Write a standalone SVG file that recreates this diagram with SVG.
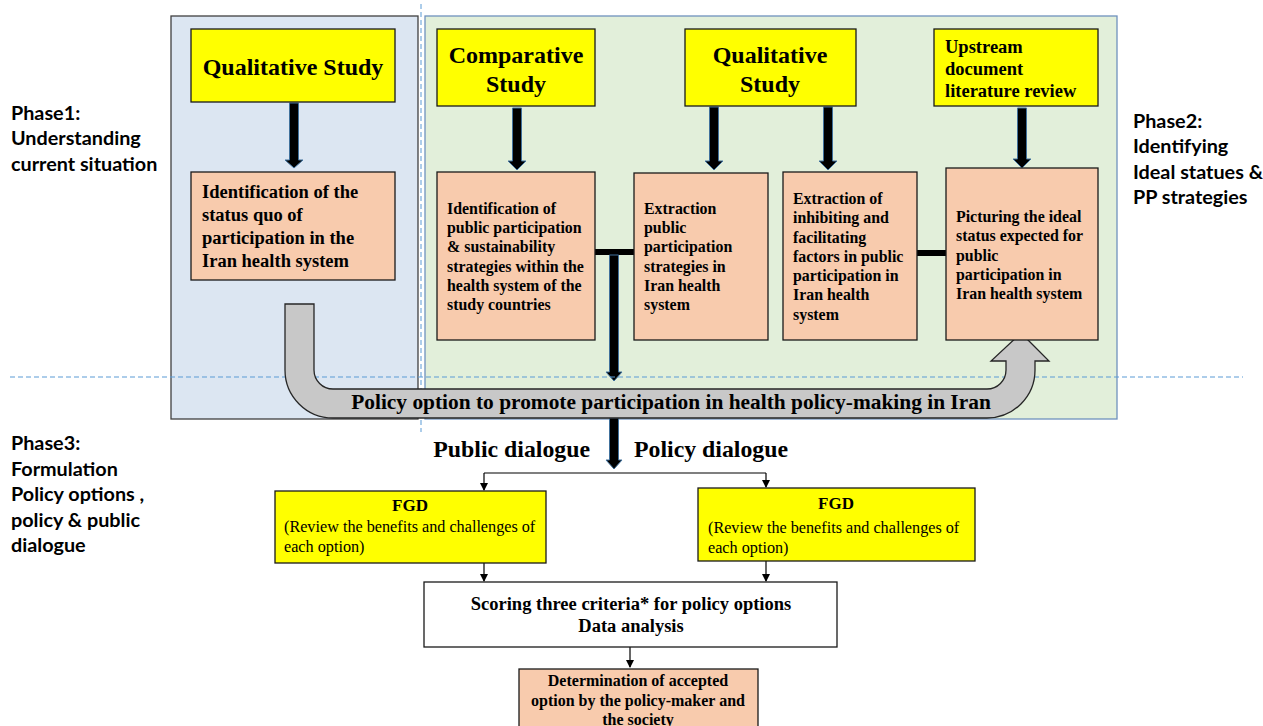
<svg xmlns="http://www.w3.org/2000/svg" width="1263" height="726" viewBox="0 0 1263 726">
<defs>
<style>
.yel{fill:#ffff00;stroke:#1a1a1a;stroke-width:1.3}
.pch{fill:#f8cbad;stroke:#1a1a1a;stroke-width:1.3}
.wht{fill:#ffffff;stroke:#1a1a1a;stroke-width:1.3}
.tb{font-family:"Liberation Serif","Times New Roman",serif;font-weight:bold;fill:#000}
.tr{font-family:"Liberation Serif","Times New Roman",serif;fill:#000}
.ph{font-family:Lato,"Open Sans",sans-serif;font-weight:bold;font-size:19.8px;fill:#000}
.thick{fill:#000;stroke:#41719c;stroke-width:1}
.thin{stroke:#000;stroke-width:1.2;fill:none}
.dash{stroke:#5b9bd5;stroke-width:1;stroke-dasharray:5,3;fill:none}
</style>
<marker id="ah" markerWidth="8" markerHeight="8" refX="7" refY="4" orient="auto" markerUnits="userSpaceOnUse">
<path d="M0,0 L8,4 L0,8 Z" fill="#000"/>
</marker>
</defs>
<rect width="1263" height="726" fill="#ffffff"/>

<g id="panels">
<rect x="171" y="16" width="247" height="403" fill="#dce6f2" stroke="#404040" stroke-width="1.3"/>
<rect x="425" y="16" width="692" height="403" fill="#e2efda" stroke="#6f91bd" stroke-width="1.3"/>
</g>

<g id="labels">
<text class="ph"><tspan x="11" y="120">Phase1:</tspan><tspan x="11" y="145">Understanding</tspan><tspan x="11" y="171">current situation</tspan></text>
<text class="ph"><tspan x="1133" y="128">Phase2:</tspan><tspan x="1133" y="153">Identifying</tspan><tspan x="1133" y="179">Ideal statues &amp;</tspan><tspan x="1133" y="204">PP strategies</tspan></text>
<text class="ph"><tspan x="11" y="450">Phase3:</tspan><tspan x="11" y="476">Formulation</tspan><tspan x="11" y="501">Policy options ,</tspan><tspan x="11" y="527">policy &amp; public</tspan><tspan x="11" y="552">dialogue</tspan></text>
</g>

<g id="connectors">
<polygon class="thick" points="289.5,103 298.5,103 298.5,160 303,160 294,168 285,160 289.5,160"/>
<polygon class="thick" points="512.5,108 521.5,108 521.5,161 526,161 517,170 508,161 512.5,161"/>
<polygon class="thick" points="709.5,107 718.5,107 718.5,161 723,161 714,170 705,161 709.5,161"/>
<polygon class="thick" points="823.5,107 832.5,107 832.5,161 837,161 828,170 819,161 823.5,161"/>
<polygon class="thick" points="1017.5,108 1026.5,108 1026.5,159 1031,159 1022,168 1013,159 1017.5,159"/>
<rect x="595" y="249" width="39" height="6" fill="#000"/>
<rect x="917" y="250" width="29" height="6" fill="#000"/>
<polygon class="thick" points="609.5,255 618.5,255 618.5,372 622,372 614,381 606,372 609.5,372"/>
<polygon class="thick" points="609.5,418 618.5,418 618.5,460 622,460 614,469 606,460 609.5,460"/>
<path class="thin" d="M484,473 L766,473"/>
<path class="thin" d="M484,473 L484,490" marker-end="url(#ah)"/>
<path class="thin" d="M766,473 L766,487" marker-end="url(#ah)"/>
<path class="thin" d="M484,563 L484,581" marker-end="url(#ah)"/>
<path class="thin" d="M766,561 L766,581" marker-end="url(#ah)"/>
<path class="thin" d="M630,647 L630,667" marker-end="url(#ah)"/>
</g>

<g id="dashes">
<path class="dash" d="M421,4 L421,432"/>
<path class="dash" d="M10,377 L1243,377"/>
</g>

<g id="banner">
<path d="M285,304 L314,304 L314,370 A19,19 0 0 0 333,389 L987,389 A19,19 0 0 0 1006,370 L1006,361 L991,361 L1021,333 L1049,361 L1035,361 L1035,370 A48,48 0 0 1 987,418 L333,418 A48,48 0 0 1 285,370 Z" fill="#c8c8c8" stroke="#262626" stroke-width="1.3"/>
<text class="tb" x="671" y="409" font-size="21.4" text-anchor="middle">Policy option to promote participation in health policy-making in Iran</text>
</g>

<g id="qual1">
<rect class="yel" x="191" y="29" width="204" height="73"/>
<text class="tb" x="293" y="75" font-size="24" text-anchor="middle">Qualitative Study</text>
</g>
<g id="ident1">
<rect class="pch" x="191" y="172" width="204" height="108"/>
<text class="tb" font-size="18.5"><tspan x="202" y="198">Identification of the</tspan><tspan x="202" y="221">status quo of</tspan><tspan x="202" y="244">participation in the</tspan><tspan x="202" y="267">Iran health system</tspan></text>
</g>
<g id="comp">
<rect class="yel" x="437" y="29" width="158" height="77"/>
<text class="tb" font-size="24" text-anchor="middle"><tspan x="516" y="63">Comparative</tspan><tspan x="516" y="92">Study</tspan></text>
</g>
<g id="qual2">
<rect class="yel" x="685" y="29" width="171" height="77"/>
<text class="tb" font-size="24" text-anchor="middle"><tspan x="770" y="63">Qualitative</tspan><tspan x="770" y="92">Study</tspan></text>
</g>
<g id="upstream">
<rect class="yel" x="934" y="29" width="164" height="77"/>
<text class="tb" font-size="18.5"><tspan x="945" y="53">Upstream</tspan><tspan x="945" y="75">document</tspan><tspan x="945" y="97">literature review</tspan></text>
</g>
<g id="ident2">
<rect class="pch" x="437" y="172" width="158" height="168"/>
<text class="tb" font-size="15.9"><tspan x="447" y="214">Identification of</tspan><tspan x="447" y="233">public participation</tspan><tspan x="447" y="252">&amp; sustainability</tspan><tspan x="447" y="272">strategies within the</tspan><tspan x="447" y="291">health system of the</tspan><tspan x="447" y="310">study countries</tspan></text>
</g>
<g id="extract1">
<rect class="pch" x="634" y="173" width="134" height="167"/>
<text class="tb" font-size="15.9"><tspan x="644" y="214">Extraction</tspan><tspan x="644" y="233">public</tspan><tspan x="644" y="252">participation</tspan><tspan x="644" y="272">strategies in</tspan><tspan x="644" y="291">Iran health</tspan><tspan x="644" y="310">system</tspan></text>
</g>
<g id="extract2">
<rect class="pch" x="783" y="172" width="134" height="168"/>
<text class="tb" font-size="15.9"><tspan x="793" y="204">Extraction of</tspan><tspan x="793" y="223">inhibiting and</tspan><tspan x="793" y="243">facilitating</tspan><tspan x="793" y="262">factors in public</tspan><tspan x="793" y="281">participation in</tspan><tspan x="793" y="300">Iran health</tspan><tspan x="793" y="320">system</tspan></text>
</g>
<g id="picture">
<rect class="pch" x="946" y="168" width="152" height="172"/>
<text class="tb" font-size="15.9"><tspan x="956" y="222">Picturing the ideal</tspan><tspan x="956" y="241">status expected for</tspan><tspan x="956" y="261">public</tspan><tspan x="956" y="280">participation in</tspan><tspan x="956" y="299">Iran health system</tspan></text>
</g>

<g id="dialogues">
<text class="tb" x="590" y="457" font-size="23.8" text-anchor="end">Public dialogue</text>
<text class="tb" x="634" y="457" font-size="23.8">Policy dialogue</text>
</g>

<g id="fgd1">
<rect class="yel" x="275" y="491" width="271" height="72"/>
<text class="tb" x="410" y="511" font-size="17" text-anchor="middle">FGD</text>
<text class="tr" font-size="16.2"><tspan x="284" y="532">(Review the benefits and challenges of</tspan><tspan x="284" y="552">each option)</tspan></text>
</g>
<g id="fgd2">
<rect class="yel" x="698" y="488" width="277" height="73"/>
<text class="tb" x="836" y="509" font-size="17" text-anchor="middle">FGD</text>
<text class="tr" font-size="16.2"><tspan x="708" y="533">(Review the benefits and challenges of</tspan><tspan x="708" y="553">each option)</tspan></text>
</g>
<g id="scoring">
<rect class="wht" x="424" y="582" width="413" height="65"/>
<text class="tb" font-size="18.5" text-anchor="middle"><tspan x="631" y="610">Scoring three criteria* for policy options</tspan><tspan x="631" y="632">Data analysis</tspan></text>
</g>
<g id="determination">
<rect class="pch" x="519" y="669" width="239" height="70"/>
<text class="tb" font-size="16" text-anchor="middle"><tspan x="638" y="686">Determination of accepted</tspan><tspan x="638" y="705.5">option by the policy-maker and</tspan><tspan x="638" y="725">the society</tspan></text>
</g>
</svg>
